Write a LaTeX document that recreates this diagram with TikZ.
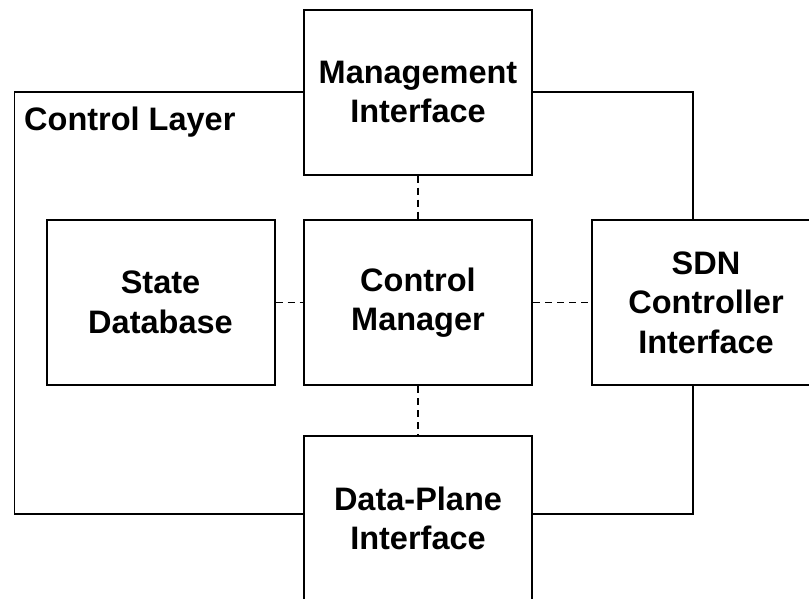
\documentclass[tikz,border=0pt]{standalone}
\usepackage{fontspec}
\setmainfont{Liberation Sans}
\begin{document}
\begin{tikzpicture}[x=1pt,y=-1pt,
  txt/.style={font=\fontsize{32.5}{39.5}\selectfont\bfseries},
  box/.style={draw, txt, line width=2pt, minimum width=228pt, minimum height=165pt, inner sep=0pt, align=center},
  link/.style={line width=1.9pt, dash pattern=on 7pt off 5pt},
  frame/.style={line width=1.8pt}]
\useasboundingbox (0,0) rectangle (809,598);
\clip (0,0) rectangle (809,598);
\node[box] (mgmt) at (418,92) {Management\\Interface};
\node[box] (sdb) at (160.5,302.5) {State\\Database};
\node[box] (cm) at (418,302.5) {Control\\Manager};
\node[box] (sdn) at (706,302.5) {SDN\\Controller\\Interface};
\node[box] (dp) at (418,518.5) {Data-Plane\\Interface};
\coordinate (cl) at (14.5,514);
\coordinate (cr) at (693,514);
\node[anchor=base west, inner sep=0pt, txt] (lbl) at (24,130) {Control Layer};
\draw[frame] (mgmt.west) -| (cl) -- (cl -| dp.west);
\draw[frame] (mgmt.east) -| (cr |- sdn.north);
\draw[frame] (cr |- sdn.south) -- (cr) -- (cr -| dp.east);
\draw[link] (mgmt.south) -- (cm.north);
\draw[link] (sdb.east) -- (cm.west);
\draw[link] (cm.east) -- (sdn.west);
\draw[link] (cm.south) -- (dp.north);
\end{tikzpicture}
\end{document}
